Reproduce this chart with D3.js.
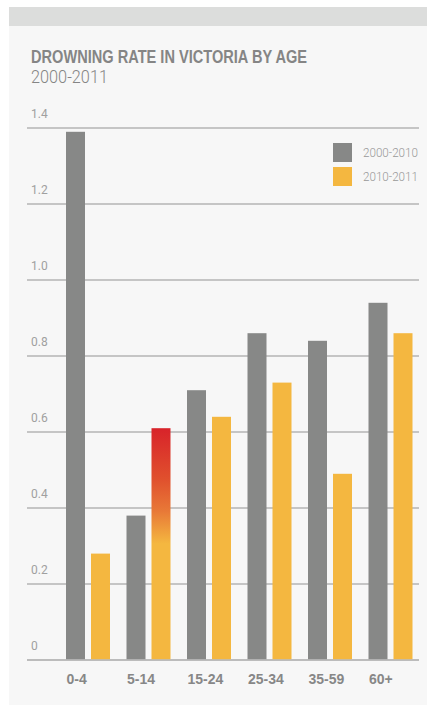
<!DOCTYPE html>
<html>
<head>
<meta charset="utf-8">
<script src="https://cdn.jsdelivr.net/npm/d3@7/dist/d3.min.js"></script>
<style>
  html, body { margin: 0; padding: 0; background: #ffffff; }
  svg { display: block; }
</style>
</head>
<body>
<svg id="chart" width="427" height="706"></svg>
<script>
// Drowning rate per 100,000 by age group, Victoria
const ages = ["0-4", "5-14", "15-24", "25-34", "35-59", "60+"];
const seriesNames = ["2000-2010", "2010-2011"];
const rate2000_2010 = [1.39, 0.38, 0.71, 0.86, 0.84, 0.94];
const rate2010_2011 = [0.28, 0.61, 0.64, 0.73, 0.49, 0.86];
const yTicks = [0, 0.2, 0.4, 0.6, 0.8, 1.0, 1.2, 1.4];
const highlightAge = "5-14";

const colors = { "2000-2010": "#878887", "2010-2011": "#f4b740" };

const svg = d3.select("#chart");

// card background and top band
svg.append("rect").attr("x", 9).attr("y", 26).attr("width", 418).attr("height", 679).attr("fill", "#f7f7f7");
svg.append("rect").attr("x", 9).attr("y", 7).attr("width", 418).attr("height", 19).attr("fill", "#dcdddc");

// gradient for the highlighted bar
const defs = svg.append("defs");
const grad = defs.append("linearGradient").attr("id", "hotGrad")
  .attr("x1", 0).attr("y1", 0).attr("x2", 0).attr("y2", 1);
grad.append("stop").attr("offset", 0).attr("stop-color", "#d8232a");
grad.append("stop").attr("offset", 0.22).attr("stop-color", "#e0502d");
grad.append("stop").attr("offset", 0.36).attr("stop-color", "#e87937");
grad.append("stop").attr("offset", 0.5).attr("stop-color", "#f4b740");
grad.append("stop").attr("offset", 1).attr("stop-color", "#f4b740");

// titles
svg.append("text")
  .attr("x", 31).attr("y", 63)
  .attr("font-family", "'Liberation Sans Narrow', 'Liberation Sans', sans-serif")
  .attr("font-weight", 700).attr("font-size", 18.5)
  .attr("fill", "#858585")
  .attr("textLength", 276).attr("lengthAdjust", "spacingAndGlyphs")
  .text("DROWNING RATE IN VICTORIA BY AGE");
svg.append("text")
  .attr("x", 31).attr("y", 83)
  .attr("font-family", "Roboto, sans-serif")
  .attr("font-weight", 300).attr("font-size", 19)
  .attr("fill", "#858585")
  .attr("textLength", 77).attr("lengthAdjust", "spacingAndGlyphs")
  .text("2000-2011");

// scales
const y = d3.scaleLinear().domain([0, 1.4]).range([660, 128]);
const x0 = d3.scaleBand().domain(ages).range([61, 424]);
const x1 = d3.scaleBand().domain(seriesNames).range([5, 49]).paddingInner(0.24);

// gridlines and value labels
const grid = svg.append("g");
grid.selectAll("line").data(yTicks).join("line")
  .attr("x1", 27).attr("x2", 419)
  .attr("y1", d => y(d)).attr("y2", d => y(d))
  .attr("stroke", d => d === 0 ? "#a9a9a9" : "#b5b5b5")
  .attr("stroke-width", 1.6);
grid.selectAll("text").data(yTicks).join("text")
  .attr("x", 31).attr("y", d => y(d) - 10)
  .attr("font-family", "Roboto, sans-serif")
  .attr("font-weight", 400).attr("font-size", 12)
  .attr("fill", "#a0a0a0")
  .text(d => d === 0 ? "0" : d3.format(".1f")(d));

// bars
const rows = ages.map((age, i) => ({
  age,
  values: [
    { series: "2000-2010", value: rate2000_2010[i] },
    { series: "2010-2011", value: rate2010_2011[i] }
  ]
}));

const groups = svg.append("g").selectAll("g").data(rows).join("g")
  .attr("transform", d => `translate(${x0(d.age)},0)`);

groups.selectAll("rect").data(d => d.values.map(v => ({ ...v, age: d.age }))).join("rect")
  .attr("x", d => x1(d.series))
  .attr("width", x1.bandwidth())
  .attr("y", d => y(d.value))
  .attr("height", d => y(0) - y(d.value) - 0.8)
  .attr("fill", d => (d.age === highlightAge && d.series === "2010-2011") ? "url(#hotGrad)" : colors[d.series]);

// category labels
svg.append("g").selectAll("text").data(ages).join("text")
  .attr("x", d => x0(d) + x1("2000-2010") + 0.5)
  .attr("y", 684)
  .attr("font-family", "'Liberation Sans Narrow', 'Liberation Sans', sans-serif")
  .attr("font-weight", 700).attr("font-size", 14)
  .attr("fill", "#878787")
  .text(d => d);

// legend
const legend = svg.append("g").selectAll("g").data(seriesNames).join("g")
  .attr("transform", (d, i) => `translate(333,${143 + i * 24})`);
legend.append("rect").attr("width", 19).attr("height", 19).attr("fill", d => colors[d]);
legend.append("text")
  .attr("x", 30).attr("y", 14)
  .attr("font-family", "Roboto, sans-serif")
  .attr("font-weight", 300).attr("font-size", 13)
  .attr("fill", "#999999")
  .attr("textLength", 55).attr("lengthAdjust", "spacingAndGlyphs")
  .text(d => d);
</script>
</body>
</html>
